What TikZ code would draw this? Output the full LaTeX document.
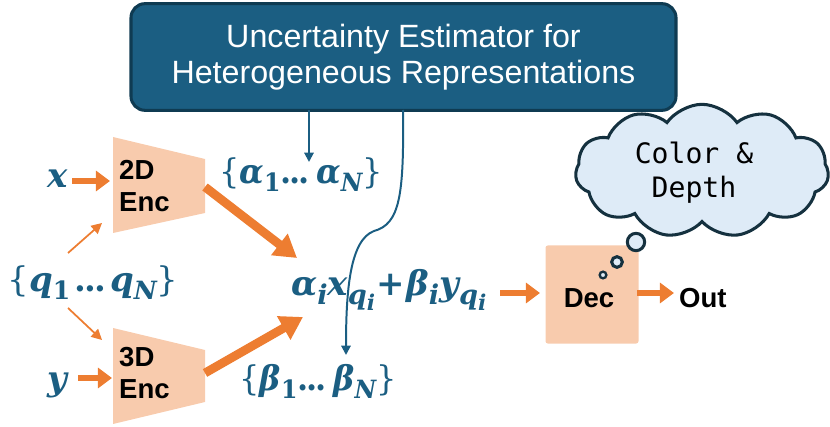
\documentclass[tikz,border=0pt]{standalone}
\usepackage{graphicx}
\usepackage{fontspec}
\setmainfont{Liberation Sans}
\setmonofont{DejaVu Sans Mono}
\newfontfamily\mathser{DejaVu Serif}
\newcommand\mv[1]{{\bfseries\itshape #1}}
\newcommand\mb[1]{{\bfseries #1}}
\newcommand\subs[1]{\raisebox{-0.22em}{\scalebox{0.74}{#1}}}
\newcommand\subx[1]{\raisebox{-0.24em}{\scalebox{0.8}{#1}}}
\newcommand\dts{\mb{.\kern-0.06em.\kern-0.06em.}}
\usetikzlibrary{arrows.meta,shapes.symbols}
\definecolor{ublue}{HTML}{1B5E82}
\definecolor{uborder}{HTML}{0F3B52}
\definecolor{orng}{HTML}{ED7D31}
\definecolor{peach}{HTML}{F8CBAD}
\definecolor{cloudfill}{HTML}{DEEBF7}
\definecolor{cloudline}{HTML}{15313F}
\begin{document}
\begin{tikzpicture}[x=0.03cm,y=-0.03cm,
  mathlbl/.style={text=ublue, font=\mathser\fontsize{29}{34}\selectfont, inner sep=0, anchor=base},
  boldlbl/.style={font=\bfseries\fontsize{23.5}{27.5}\selectfont, inner sep=0},
  enclbl/.style={boldlbl, align=left, anchor=west},
  fatarrow/.style={orng, line width=5.5pt, -{Triangle[length=12pt,width=17pt]}},
  hugearrow/.style={orng, line width=7.5pt, -{Triangle[length=19pt,width=22pt]}},
  thinarrow/.style={orng, line width=1.5pt, -{Triangle[length=9pt,width=9pt]}},
  bluearrow/.style={ublue, line width=1.7pt, -{Triangle[length=8pt,width=8pt]}},
  peachshape/.style={fill=peach, draw=none},
  bubble/.style={fill=cloudfill, draw=cloudline, line width=2.6pt},
]
\useasboundingbox (0,0) rectangle (830,427);

% estimator box
\node (est) [rectangle, rounded corners=12pt, fill=ublue, draw=uborder, line width=2.6pt,
  minimum width=16.35cm, minimum height=3.2cm, text=white, align=center,
  font=\fontsize{27.5}{30.5}\selectfont] at (403.5,57)
  {Uncertainty Estimator for\\Heterogeneous Representations};

% encoders
\path[peachshape] (113,137) -- (205,159) -- (205,213) -- (113,233) -- cycle;
\path[peachshape] (113,328) -- (205,350) -- (205,402) -- (113,424) -- cycle;
\node[enclbl] (enc2) at (119,186) {2D\\Enc};
\node[enclbl] (enc3) at (119,373) {3D\\Enc};
\coordinate (e2in) at (110,181);
\coordinate (e3in) at (112,378);
\coordinate (e2q) at (102,223);
\coordinate (e3q) at (102,340);
\coordinate (e2out) at (205,187);
\coordinate (e3out) at (205,373);

% decoder
\node (dec) [rectangle, rounded corners=2pt, peachshape, minimum width=2.79cm, minimum height=2.94cm] at (592,294.5) {};
\node[boldlbl] (declbl) at (589,298) {Dec};
\node[boldlbl, anchor=west] (out) at (679,298) {Out};

% math labels
\node[mathlbl] (x) at (58,188) {\mv{x}};
\node[mathlbl] (y) at (57,390) {\mv{y}};
\node[mathlbl] (q) at (93,292) {\{\mv{q}\subs{\mb{1}}\hspace{0.12em}\dts\hspace{0.12em}\mv{q}\subs{\mv{N}}\}};
\node[mathlbl] (al) at (301,184) {\scalebox{0.94}[1]{\{\mv{α}\subs{\mb{1}}\dts\hspace{0.2em}\mv{α}\subs{\mv{N}}\}}};
\node[mathlbl] (be) at (318,391) {\scalebox{0.94}[1]{\{\mv{β}\subs{\mb{1}}\dts\hspace{0.2em}\mv{β}\subs{\mv{N}}\}}};
\node[mathlbl, anchor=base west] (expr) at (291,296) {\mv{α}\subx{\mv{i}}\mv{x}\subx{\mv{q}\subx{\mv{i}}}\hspace{0.04em}\mb{+}\hspace{0.04em}\mv{β}\subx{\mv{i}}\mv{y}\subx{\mv{q}\subx{\mv{i}}}};

% cloud
\node (cloud) [cloud, cloud puffs=11, cloud puff arc=110, aspect=2.1, bubble,
  minimum width=7.6cm, minimum height=4.0cm, inner sep=0] at (702,171) {};
\node (cloudtxt) [align=center, inner sep=0, font=\ttfamily\fontsize{24}{29}\selectfont] at (694,173) {Color \&\\Depth};
\node (b1) [circle, bubble, minimum size=0.52cm, inner sep=0] at (636,242) {};
\node (b2) [circle, bubble, minimum size=0.32cm, inner sep=0] at (617,262) {};
\node (b3) [circle, bubble, line width=2pt, minimum size=0.2cm, inner sep=0] at (603,275) {};

% orange arrows
\coordinate (xs) at (72,181);
\coordinate (ys) at (78,378);
\draw[fatarrow] (xs) -- (e2in);
\draw[fatarrow] (ys) -- (e3in);
\coordinate (qa) at (68,253);
\coordinate (qb) at (68,308);
\draw[thinarrow] (qa) -- (e2q);
\draw[thinarrow] (qb) -- (e3q);
\coordinate (t2) at (297,258);
\coordinate (t3) at (303,317);
\draw[hugearrow] (e2out) -- (t2);
\draw[hugearrow] (e3out) -- (t3);
\coordinate (xo) at (500,293);
\coordinate (di) at (540,293);
\draw[fatarrow] (xo) -- (di);
\coordinate (do) at (637,293);
\coordinate (oi) at (674,293);
\draw[fatarrow] (do) -- (oi);

% blue arrows
\coordinate (ea) at (309,110);
\coordinate (at) at (309,162);
\draw[bluearrow] (ea) -- (at);
\coordinate (eb) at (403,110);
\coordinate (kink) at (374,231);
\coordinate (bt) at (346,355);
\draw[bluearrow] (eb) .. controls (404,195) and (400,224) .. (kink)
  .. controls (350,240) and (346,290) .. (bt);
\end{tikzpicture}
\end{document}
